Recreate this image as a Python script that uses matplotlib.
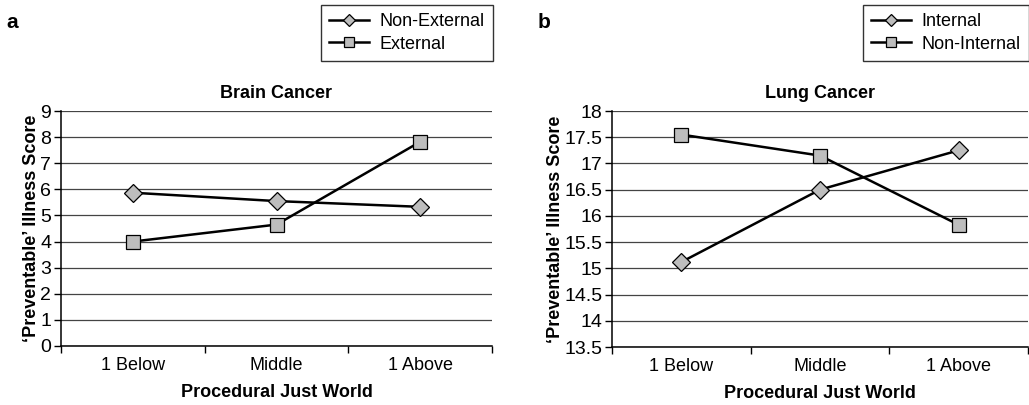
import matplotlib; matplotlib.use("Agg")
import matplotlib.pyplot as plt

plt.rcParams["font.family"] = ["Liberation Sans", "DejaVu Sans"]

categories = ["1 Below", "Middle", "1 Above"]
brain_non_external = [5.87, 5.55, 5.33]
brain_external = [4.0, 4.65, 7.82]
lung_internal = [15.12, 16.5, 17.25]
lung_non_internal = [17.55, 17.15, 15.83]

FILL = "#bdbdbd"
W, H = 1029, 405

fig = plt.figure(figsize=(W / 100, H / 100), dpi=100)
fig.patch.set_facecolor("white")


def panel(rect, s1, s2, n1, n2, title, ylim, yticks, leg_right, letter, letter_x):
    ax = fig.add_axes(rect)
    x = range(len(categories))
    ax.plot(x, s1, color="black", lw=1.8, marker="D", ms=9.5, mfc=FILL, mec="black", mew=0.9, label=n1, zorder=3)
    ax.plot(x, s2, color="black", lw=1.8, marker="s", ms=10, mfc=FILL, mec="black", mew=0.9, label=n2, zorder=3)
    ax.set_xlim(-0.5, 2.5)
    ax.set_ylim(*ylim)
    ax.set_yticks(yticks)
    ax.set_yticklabels([f"{v:g}" for v in yticks], fontsize=14)
    ax.set_xticks([0, 1, 2])
    ax.set_xticklabels(categories, fontsize=13)
    ax.tick_params(axis="x", length=0, pad=8)
    ax.set_xticks([-0.5, 0.5, 1.5, 2.5], minor=True)
    ax.tick_params(axis="x", which="minor", length=5, width=1, direction="out")
    ax.tick_params(axis="y", length=5, width=1, direction="out", pad=2)
    ax.yaxis.grid(True, color="#444444", lw=0.9)
    ax.set_axisbelow(True)
    for s in ["top", "right"]:
        ax.spines[s].set_visible(False)
    ax.spines["left"].set_linewidth(1.1)
    ax.spines["bottom"].set_linewidth(1.1)
    ax.set_title(title, fontsize=13, fontweight="bold", pad=9)
    ax.set_xlabel("Procedural Just World", fontsize=13, fontweight="bold", labelpad=7)
    ax.set_ylabel("\u2018Preventable\u2019 Illness Score", fontsize=13, fontweight="bold", labelpad=0)
    leg = ax.legend(loc="upper right", bbox_to_anchor=(leg_right / W, 1 - 5 / H), bbox_transform=fig.transFigure,
                    fontsize=13, frameon=True, fancybox=False, edgecolor="black", handlelength=2.2,
                    borderpad=0.45, labelspacing=0.3, handletextpad=0.6, borderaxespad=0, markerscale=0.65)
    leg.get_frame().set_linewidth(1.0)
    fig.text(letter_x / W, 1 - 22 / H, letter, fontsize=15, fontweight="bold", va="center")
    return ax


panel([61 / W, 1 - 346 / H, (492 - 61) / W, (346 - 111) / H],
      brain_non_external, brain_external, "Non-External", "External", "Brain Cancer",
      (0, 9), list(range(0, 10)), 493, "a", 6)

lung_ticks = [13.5 + 0.5 * i for i in range(10)]
panel([612 / W, 1 - 347 / H, (1028 - 612) / W, (347 - 111) / H],
      lung_internal, lung_non_internal, "Internal", "Non-Internal", "Lung Cancer",
      (13.5, 18), lung_ticks, 1029, "b", 538)

fig.savefig("out.png", dpi=100, facecolor="white")
